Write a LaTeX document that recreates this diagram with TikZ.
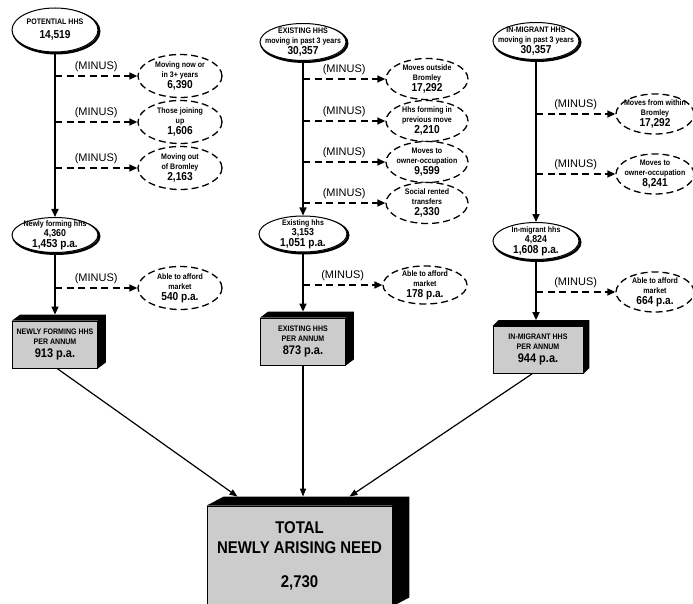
\documentclass[tikz,border=0pt]{standalone}
\usepackage{fontspec}
\setmainfont[FakeStretch=0.88]{Liberation Sans}
\newfontfamily\plainsans{Liberation Sans}
\usetikzlibrary{shapes.geometric,arrows.meta,calc}

\newcommand{\smtxt}{\fontsize{8}{10}\selectfont}
\newcommand{\midtxt}{\fontsize{10}{11}\selectfont}
\newcommand{\numtxt}{\fontsize{11.5}{13}\selectfont}
\newcommand{\boxside}[3]{\fill (#1.north west) -- ++(#2,-#3) -- ($(#1.north east)+(#2,-#3)$) -- ($(#1.south east)+(#2,-#3)$) -- (#1.south east) -- (#1.north east) -- cycle;}

\tikzset{
  hhs/.style={ellipse, draw, fill=white, line width=1pt, inner xsep=-20pt, inner ysep=-8pt, align=center, font=\bfseries\smtxt,
    preaction={draw, line width=2.4pt, transform canvas={shift={(1.3pt,-1.3pt)}}}},
  minusbox/.style={ellipse, draw, fill=white, line width=1.3pt, dash pattern=on 7pt off 4pt, inner xsep=-20pt, inner ysep=-8pt, align=center, font=\bfseries\smtxt},
  perannum/.style={draw, fill=gray!40, line width=0.8pt, minimum width=85pt, minimum height=47pt, align=center, font=\bfseries\smtxt, inner sep=1pt},
  flow/.style={line width=1.6pt, -{Triangle[length=8pt,width=7pt]}},
  minusline/.style={line width=1.6pt, dash pattern=on 7pt off 4.5pt, -{Triangle[length=8pt,width=7pt]}},
  minuslbl/.style={above=2pt, inner sep=1pt, font=\plainsans\fontsize{11}{12}\selectfont},
  sumline/.style={line width=1.2pt, -{Triangle[length=8pt,width=6pt]}}
}

\begin{document}
\begin{tikzpicture}[x=1pt,y=-1pt]
      \useasboundingbox (0,0) rectangle (693,604);
      \clip (0,0) rectangle (693,604);

      \node[hhs, minimum width=86pt, minimum height=44pt] (P0) at (55,30) {POTENTIAL HHS\\[4pt]{\numtxt 14,519}};
      \node[hhs, minimum width=86pt, minimum height=37pt] (E0) at (303,42) {EXISTING HHS\\moving in past 3 years\\[1pt]{\numtxt 30,357}};
      \node[hhs, minimum width=86pt, minimum height=37pt] (I0) at (536,41) {IN-MIGRANT HHS\\moving in past 3 years\\[1pt]{\numtxt 30,357}};

      \node[hhs, minimum width=86pt, minimum height=35pt] (P1) at (55,235) {Newly forming hhs\\\midtxt 4,360\\[1pt]{\numtxt 1,453 p.a.}};
      \node[hhs, minimum width=88pt, minimum height=36pt] (E1) at (303,234) {Existing hhs\\\midtxt 3,153\\[1pt]{\numtxt 1,051 p.a.}};
      \node[hhs, minimum width=86pt, minimum height=37pt] (I1) at (536,241) {In-migrant hhs\\\midtxt 4,824\\[1pt]{\numtxt 1,608 p.a.}};

      \node[minusbox, minimum width=84pt, minimum height=43pt] (L1) at (180,76) {Moving now or\\in 3+ years\\[1pt]{\numtxt 6,390}};
      \node[minusbox, minimum width=84pt, minimum height=43pt] (L2) at (180,122) {Those joining\\up\\[1pt]{\numtxt 1,606}};
      \node[minusbox, minimum width=84pt, minimum height=43pt] (L3) at (180,168) {Moving out\\of Bromley\\[1pt]{\numtxt 2,163}};
      \node[minusbox, minimum width=84pt, minimum height=43pt] (L4) at (180,288) {Able to afford\\market\\[1pt]{\numtxt 540 p.a.}};

      \node[minusbox, minimum width=82pt, minimum height=41pt] (M1) at (427,79) {Moves outside\\Bromley\\[1pt]{\numtxt 17,292}};
      \node[minusbox, minimum width=82pt, minimum height=41pt] (M2) at (427,121) {Hhs forming in\\previous move\\[1pt]{\numtxt 2,210}};
      \node[minusbox, minimum width=82pt, minimum height=41pt] (M3) at (427,162) {Moves to\\owner-occupation\\[1pt]{\numtxt 9,599}};
      \node[minusbox, minimum width=82pt, minimum height=41pt] (M4) at (427,203) {Social rented\\transfers\\[1pt]{\numtxt 2,330}};
      \node[minusbox, minimum width=84pt, minimum height=38pt] (M5) at (425,285) {Able to afford\\market\\[1pt]{\numtxt 178 p.a.}};

      \node[minusbox, minimum width=78pt, minimum height=40pt] (R1) at (655,114) {Moves from within\\Bromley\\[1pt]{\numtxt 17,292}};
      \node[minusbox, minimum width=78pt, minimum height=40pt] (R2) at (655,174) {Moves to\\owner-occupation\\[1pt]{\numtxt 8,241}};
      \node[minusbox, minimum width=78pt, minimum height=40pt] (R3) at (655,292) {Able to afford\\market\\[1pt]{\numtxt 664 p.a.}};

      \node[perannum] (B1) at (55,344.5) {NEWLY FORMING HHS\\PER ANNUM\\[3pt]{\fontsize{12.5}{14}\selectfont 913 p.a.}};
      \node[perannum] (B2) at (303,341.5) {EXISTING HHS\\PER ANNUM\\[3pt]{\fontsize{12.5}{14}\selectfont 873 p.a.}};
      \node[perannum, minimum width=90pt] (B3) at (538,350) {IN-MIGRANT HHS\\PER ANNUM\\[3pt]{\fontsize{12.5}{14}\selectfont 944 p.a.}};
      \boxside{B1}{8}{6}
      \boxside{B2}{8}{6}
      \boxside{B3}{6}{6}

      \node[perannum, minimum width=185pt, minimum height=100pt, font=\bfseries\fontsize{17}{20}\selectfont] (T) at (299.5,556) {TOTAL\\NEWLY ARISING NEED\\[14pt]2,730};
      \boxside{T}{17}{9}

      \coordinate (pl1) at (55,76);
      \coordinate (pl2) at (55,122);
      \coordinate (pl3) at (55,168);
      \coordinate (pl4) at (55,288);
      \coordinate (el1) at (303,79);
      \coordinate (el2) at (303,121);
      \coordinate (el3) at (303,162);
      \coordinate (el4) at (303,203);
      \coordinate (el5) at (303,285);
      \coordinate (il1) at (536,114);
      \coordinate (il2) at (536,174);
      \coordinate (il3) at (536,292);

      \draw[flow] (P0) -- (P1);
      \draw[flow] (P1) -- ([yshift=6pt]B1.north);
      \draw[flow] (E0) -- (E1);
      \draw[flow] (E1) -- ([yshift=6pt]B2.north);
      \draw[flow] (I0) -- (I1);
      \draw[flow] (I1) -- ([shift={(-2pt,6pt)}]B3.north);

      \draw[minusline] (pl1) -- node[minuslbl] (pm1) {(MINUS)} (L1);
      \draw[minusline] (pl2) -- node[minuslbl] (pm2) {(MINUS)} (L2);
      \draw[minusline] (pl3) -- node[minuslbl] (pm3) {(MINUS)} (L3);
      \draw[minusline] (pl4) -- node[minuslbl] (pm4) {(MINUS)} (L4);
      \draw[minusline] (el1) -- node[minuslbl] (em1) {(MINUS)} (M1);
      \draw[minusline] (el2) -- node[minuslbl] (em2) {(MINUS)} (M2);
      \draw[minusline] (el3) -- node[minuslbl] (em3) {(MINUS)} (M3);
      \draw[minusline] (el4) -- node[minuslbl] (em4) {(MINUS)} (M4);
      \draw[minusline] (el5) -- node[minuslbl] (em5) {(MINUS)} (M5);
      \draw[minusline] (il1) -- node[minuslbl] (im1) {(MINUS)} (R1);
      \draw[minusline] (il2) -- node[minuslbl] (im2) {(MINUS)} (R2);
      \draw[minusline] (il3) -- node[minuslbl] (im3) {(MINUS)} (R3);

      \draw[sumline] ([xshift=2pt]B1.south) -- ([shift={(-62pt,9pt)}]T.north);
      \draw[sumline] (B2.south) -- ([shift={(3.5pt,9pt)}]T.north);
      \draw[sumline] ([xshift=-6pt]B3.south) -- ([shift={(50pt,9pt)}]T.north);
\end{tikzpicture}
\end{document}
